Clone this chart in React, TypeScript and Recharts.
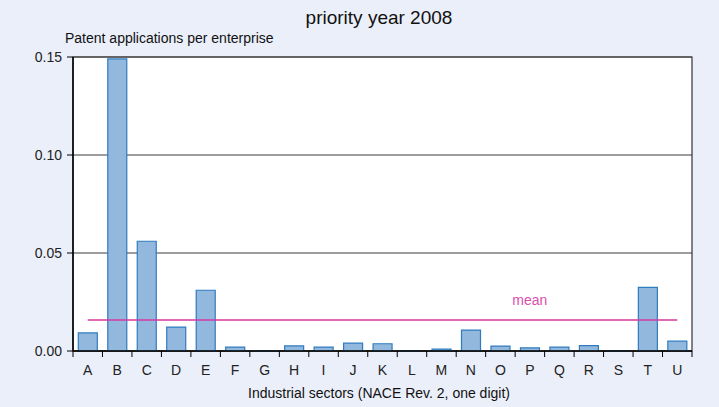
import React from 'react'
import { XAxis, YAxis, CartesianGrid, ReferenceArea, Line, Bar, ComposedChart } from 'recharts'

const sectors = ['A', 'B', 'C', 'D', 'E', 'F', 'G', 'H', 'I', 'J', 'K', 'L', 'M', 'N', 'O', 'P', 'Q', 'R', 'S', 'T', 'U']
const applications = [0.0092, 0.149, 0.056, 0.0122, 0.031, 0.002, 0.0002, 0.0026, 0.002, 0.004, 0.0037, 0.0002, 0.001, 0.0107, 0.0025, 0.0016, 0.002, 0.0027, 0.0002, 0.0325, 0.005]
const meanValue = 0.0158
const yTicks = [0, 0.05, 0.1, 0.15]
const meanLabelSector = 'P'

const data = sectors.map((s, i) => ({ sector: s, value: applications[i], mean: meanValue }))

const FONT = '"Liberation Sans", Arial, sans-serif'

const SectorTick = (props: any) => {
    const { x, y, payload, index, visibleTicksCount } = props
    const half = payload && payload.offset ? payload.offset : 14.74
    return (
        <g>
            <line x1={x - half} y1={y} x2={x - half} y2={y + 6} stroke="#000" strokeWidth={1} />
            {index === visibleTicksCount - 1 && (
                <line x1={x + half} y1={y} x2={x + half} y2={y + 6} stroke="#000" strokeWidth={1} />
            )}
            <text x={x} y={y + 24} textAnchor="middle" fontSize={14} fill="#222" fontFamily={FONT}>
                {payload.value}
            </text>
        </g>
    )
}

const MeanLabel = (props: any) => {
    const { x, y, index } = props
    if (sectors[index] !== meanLabelSector) return null
    return (
        <text x={x} y={y - 15} textAnchor="middle" fontSize={14} fill="#d94fae" fontFamily={FONT}>
            mean
        </text>
    )
}

export default function App() {
    return (
        <div style={{
            position: 'absolute', left: 0, top: 0, width: 719, height: 407,
            background: '#ebeffa', fontFamily: FONT, overflow: 'hidden'
        }}>
            <div style={{ position: 'absolute', left: 0, width: 758, top: 7, textAlign: 'center', fontSize: 19, color: '#111', whiteSpace: 'nowrap' }}>
                priority year 2008
            </div>
            <div style={{ position: 'absolute', left: 65, top: 30, fontSize: 14, color: '#111', whiteSpace: 'nowrap' }}>
                Patent applications per enterprise
            </div>
            <div style={{ position: 'absolute', left: 0, width: 758, top: 385, textAlign: 'center', fontSize: 14, color: '#111', whiteSpace: 'nowrap' }}>
                Industrial sectors (NACE Rev. 2, one digit)
            </div>
            <ComposedChart
                width={719}
                height={407}
                data={data}
                margin={{ top: 57, right: 27, left: 0, bottom: 0 }}
                barCategoryGap="18%"
                style={{ position: 'absolute', left: 0, top: 0 }}
            >
                <CartesianGrid vertical={false} stroke="#3a3a3a" fill="#ffffff" fillOpacity={1} />
                <XAxis
                    dataKey="sector"
                    height={56}
                    tickLine={false}
                    tickSize={0}
                    tickMargin={0}
                    tick={<SectorTick />}
                    axisLine={{ stroke: '#000', strokeWidth: 1.5 }}
                    interval={0}
                />
                <YAxis
                    width={73}
                    domain={[0, 0.15]}
                    ticks={yTicks}
                    tickFormatter={(v: number) => v.toFixed(2)}
                    tick={{ fontSize: 14, fill: '#222', fontFamily: FONT }}
                    tickSize={6}
                    tickMargin={5}
                    tickLine={{ stroke: '#000' }}
                    axisLine={{ stroke: '#000', strokeWidth: 1.5 }}
                    allowDataOverflow
                />
                <ReferenceArea y1={0} y2={0.15} fill="none" fillOpacity={0} stroke="#333" strokeWidth={1.2} ifOverflow="visible" />
                <Bar dataKey="value" fill="#93b8dd" stroke="#2f7bbf" strokeWidth={1.2} isAnimationActive={false} />
                <Line
                    dataKey="mean"
                    stroke="#d4379f"
                    strokeWidth={1.5}
                    dot={false}
                    isAnimationActive={false}
                    label={<MeanLabel />}
                />
            </ComposedChart>
        </div>
    )
}
